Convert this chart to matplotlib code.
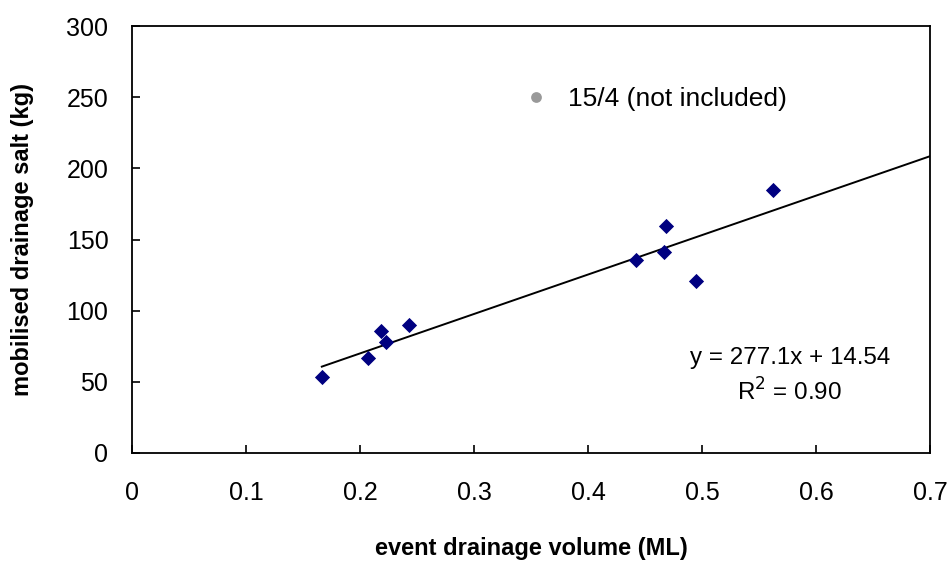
import matplotlib
matplotlib.use("Agg")
import matplotlib.pyplot as plt
import numpy as np

plt.rcParams['font.family'] = ['Liberation Sans', 'DejaVu Sans']

# event drainage volume (ML) and mobilised salt (kg) for the included events
volume_ml = [0.1665, 0.2073, 0.2187, 0.2227, 0.2427, 0.4423, 0.4668, 0.4682, 0.4945, 0.5625]
salt_kg = [53.2, 66.5, 85.8, 77.7, 89.6, 135.3, 141.3, 159.3, 120.8, 184.7]

# the 15/4 event, shown but left out of the fit
excluded_volume = [0.354]
excluded_salt = [250.0]

# linear fit reported on the chart
slope = 277.1
intercept = 14.54
r_squared = 0.90

x_ticks = [0, 0.1, 0.2, 0.3, 0.4, 0.5, 0.6, 0.7]
x_tick_labels = ["0", "0.1", "0.2", "0.3", "0.4", "0.5", "0.6", "0.7"]
y_ticks = [0, 50, 100, 150, 200, 250, 300]

fig = plt.figure(figsize=(9.49, 5.63), dpi=100)
ax = fig.add_axes([132 / 949, 1 - 453 / 563, (930 - 132) / 949, (453 - 26) / 563])

ax.scatter(volume_ml, salt_kg, marker="D", s=60, color="#000080", zorder=3, linewidths=0)
ax.scatter(excluded_volume, excluded_salt, marker="o", s=60, color="#999999", zorder=3, linewidths=0)

fit_x = np.array([min(volume_ml), 0.7])
ax.plot(fit_x, slope * fit_x + intercept, color="black", lw=1.4, zorder=2)

ax.text(0.3825, 249, "15/4 (not included)", fontsize=19, va="center", ha="left")
ax.text(0.577, 66.5, f"y = {slope}x + {intercept}", fontsize=17.4, ha="center", va="center")
ax.text(0.577, 43, f"R$^2$ = {r_squared:.2f}", fontsize=17.4, ha="center", va="center")

ax.set_xlim(0, 0.7)
ax.set_ylim(0, 300)
ax.set_xticks(x_ticks)
ax.set_xticklabels(x_tick_labels)
ax.set_yticks(y_ticks)
ax.tick_params(direction="in", length=6, width=1.2, labelsize=18)
ax.tick_params(axis="x", pad=20)
ax.tick_params(axis="y", pad=17)
for s in ax.spines.values():
    s.set_linewidth(1.3)

ax.set_xlabel("event drainage volume (ML)", fontsize=17, fontweight="bold", va="center")
ax.set_ylabel("mobilised drainage salt (kg)", fontsize=17, fontweight="bold", va="center")
ax.xaxis.set_label_coords(0.5, (453 - 548) / 427)
ax.yaxis.set_label_coords((22 - 132) / 798, 0.5)

fig.savefig("out.png", dpi=100)
